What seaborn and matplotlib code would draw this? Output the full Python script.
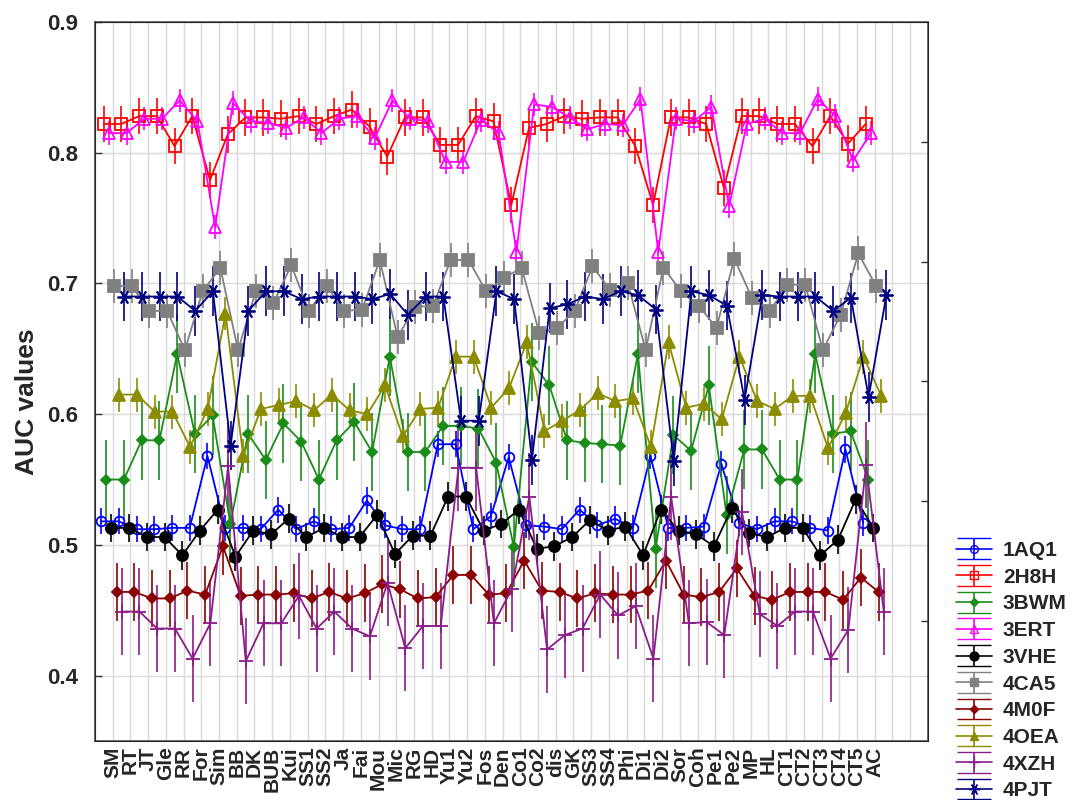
import numpy as np
import pandas as pd
import matplotlib
matplotlib.use("Agg")
import matplotlib.pyplot as plt
import seaborn as sns

# categories on the x axis
cats = ["SM", "RT", "JT", "Gle", "RR", "For", "Sim", "BB", "DK", "BUB", "Kui",
        "SS1", "SS2", "Ja", "Fai", "Mou", "Mic", "RG", "HD", "Yu1", "Yu2", "Fos",
        "Den", "Co1", "Co2", "dis", "GK", "SS3", "SS4", "Phi", "Di1", "Di2", "Sor",
        "Coh", "Pe1", "Pe2", "MP", "HL", "CT1", "CT2", "CT3", "CT4", "CT5", "AC"]

# AUC values per model
aq1 = [0.518, 0.518, 0.512, 0.512, 0.513, 0.513, 0.568, 0.513, 0.513, 0.512, 0.527,
       0.512, 0.518, 0.512, 0.513, 0.534, 0.515, 0.512, 0.512, 0.577, 0.577, 0.512,
       0.522, 0.567, 0.515, 0.514, 0.512, 0.527, 0.515, 0.520, 0.513, 0.568, 0.513,
       0.513, 0.514, 0.562, 0.517, 0.512, 0.518, 0.518, 0.513, 0.511, 0.573, 0.517]
h8h = [0.822, 0.822, 0.828, 0.828, 0.805, 0.828, 0.779, 0.814, 0.827, 0.827, 0.826,
       0.828, 0.822, 0.828, 0.833, 0.820, 0.797, 0.827, 0.827, 0.806, 0.806, 0.828,
       0.824, 0.760, 0.819, 0.822, 0.828, 0.826, 0.827, 0.827, 0.805, 0.760, 0.827,
       0.827, 0.822, 0.773, 0.828, 0.828, 0.822, 0.822, 0.805, 0.828, 0.807, 0.822]
bwm = [0.550, 0.550, 0.580, 0.580, 0.646, 0.585, 0.599, 0.516, 0.585, 0.565, 0.593,
       0.579, 0.550, 0.580, 0.594, 0.571, 0.644, 0.571, 0.571, 0.591, 0.591, 0.589,
       0.563, 0.498, 0.640, 0.622, 0.580, 0.578, 0.577, 0.576, 0.646, 0.497, 0.584,
       0.572, 0.622, 0.523, 0.573, 0.573, 0.550, 0.550, 0.646, 0.585, 0.587, 0.550]
ert = [0.815, 0.815, 0.826, 0.826, 0.840, 0.824, 0.743, 0.838, 0.824, 0.823, 0.819,
       0.827, 0.815, 0.826, 0.828, 0.811, 0.840, 0.826, 0.824, 0.793, 0.793, 0.825,
       0.815, 0.724, 0.837, 0.835, 0.827, 0.818, 0.822, 0.821, 0.841, 0.724, 0.826,
       0.824, 0.835, 0.759, 0.822, 0.826, 0.815, 0.815, 0.841, 0.828, 0.794, 0.815]
vhe = [0.513, 0.513, 0.506, 0.506, 0.492, 0.511, 0.527, 0.491, 0.511, 0.508, 0.520,
       0.506, 0.513, 0.506, 0.506, 0.523, 0.493, 0.507, 0.507, 0.537, 0.537, 0.511,
       0.516, 0.527, 0.497, 0.499, 0.506, 0.519, 0.511, 0.514, 0.492, 0.527, 0.511,
       0.508, 0.499, 0.528, 0.509, 0.506, 0.513, 0.513, 0.492, 0.504, 0.535, 0.513]
ca5 = [0.698, 0.698, 0.679, 0.679, 0.649, 0.694, 0.712, 0.649, 0.694, 0.685, 0.714,
       0.679, 0.698, 0.679, 0.680, 0.718, 0.659, 0.682, 0.683, 0.718, 0.718, 0.694,
       0.704, 0.712, 0.662, 0.666, 0.679, 0.713, 0.695, 0.700, 0.649, 0.712, 0.694,
       0.683, 0.666, 0.719, 0.689, 0.679, 0.699, 0.699, 0.649, 0.676, 0.723, 0.698]
m0f = [0.464, 0.464, 0.459, 0.459, 0.465, 0.462, 0.499, 0.461, 0.462, 0.462, 0.463,
       0.459, 0.464, 0.459, 0.463, 0.470, 0.466, 0.459, 0.460, 0.477, 0.477, 0.462,
       0.463, 0.488, 0.465, 0.464, 0.459, 0.463, 0.462, 0.462, 0.465, 0.488, 0.462,
       0.460, 0.464, 0.482, 0.461, 0.458, 0.464, 0.464, 0.464, 0.458, 0.475, 0.464]
oea = [0.615, 0.615, 0.602, 0.602, 0.575, 0.604, 0.677, 0.568, 0.604, 0.607, 0.610,
       0.603, 0.615, 0.603, 0.600, 0.622, 0.583, 0.604, 0.605, 0.644, 0.644, 0.605,
       0.620, 0.655, 0.587, 0.595, 0.603, 0.616, 0.610, 0.612, 0.575, 0.655, 0.605,
       0.608, 0.596, 0.644, 0.610, 0.604, 0.614, 0.614, 0.574, 0.601, 0.644, 0.614]
xzh = [0.449, 0.449, 0.436, 0.436, 0.413, 0.440, 0.560, 0.411, 0.440, 0.440, 0.461,
       0.436, 0.449, 0.436, 0.430, 0.471, 0.421, 0.438, 0.438, 0.559, 0.559, 0.440,
       0.466, 0.537, 0.420, 0.431, 0.436, 0.462, 0.446, 0.453, 0.413, 0.537, 0.440,
       0.441, 0.431, 0.525, 0.447, 0.438, 0.449, 0.449, 0.413, 0.435, 0.561, 0.449]
pjt = [0.690, 0.690, 0.690, 0.690, 0.679, 0.694, 0.576, 0.679, 0.694, 0.694, 0.688,
       0.690, 0.690, 0.690, 0.688, 0.692, 0.676, 0.690, 0.690, 0.595, 0.595, 0.694,
       0.688, 0.565, 0.681, 0.684, 0.690, 0.688, 0.694, 0.691, 0.680, 0.564, 0.694,
       0.691, 0.683, 0.611, 0.691, 0.690, 0.690, 0.690, 0.679, 0.689, 0.613, 0.691]

# half-width of the error bars per model
errs = {"1AQ1": 0.010, "2H8H": 0.014, "3BWM": 0.030, "3ERT": 0.009, "3VHE": 0.011,
        "4CA5": 0.013, "4M0F": 0.022, "4OEA": 0.013, "4XZH": 0.033, "4PJT": 0.019}

names = ["1AQ1", "2H8H", "3BWM", "3ERT", "3VHE", "4CA5", "4M0F", "4OEA", "4XZH", "4PJT"]
values = [aq1, h8h, bwm, ert, vhe, ca5, m0f, oea, xzh, pjt]

# style per model: colour, marker, filled?, marker size
styles = {
    "1AQ1": ("#0000ff", "o", False, 7),
    "2H8H": ("#ff0000", "s", False, 8),
    "3BWM": ("#1a8c1a", "D", True, 5.5),
    "3ERT": ("#ff00ff", "^", False, 8),
    "3VHE": ("#000000", "o", True, 8),
    "4CA5": ("#808080", "s", True, 8),
    "4M0F": ("#8b0000", "D", True, 5.5),
    "4OEA": ("#8c8c00", "^", True, 8),
    "4XZH": ("#8b1c8b", "+", True, 10),
    "4PJT": ("#000080", (6, 2, 90), True, 10),
}

rows = []
for name, vals in zip(names, values):
    for k, v in enumerate(vals):
        rows.append({"model": name, "cat": k, "auc": v})
df = pd.DataFrame(rows)

sns.set_style("white")
plt.rcParams["font.family"] = ["Liberation Sans", "DejaVu Sans"]
plt.rcParams["font.weight"] = "bold"

fig = plt.figure(figsize=(10.72, 8), dpi=100)
ax = fig.add_axes([0.0886, 0.0738, 0.777, 0.8987])

# horizontal dodge of the models inside each category
offsets = np.linspace(-0.655, 0.655, len(names))

handles = []
for j, name in enumerate(names):
    col, mk, filled, ms = styles[name]
    d = df[df["model"] == name].copy()
    d["x"] = d["cat"] + offsets[j]
    ax.errorbar(d["x"], d["auc"], yerr=errs[name], fmt="none", ecolor=col,
                elinewidth=1.2, capsize=0, zorder=2)
    sns.lineplot(data=d, x="x", y="auc", ax=ax, color=col, lw=1.3,
                 marker=mk, markersize=ms,
                 markerfacecolor=col if filled else "none",
                 markeredgecolor=col, markeredgewidth=1.3,
                 zorder=3, legend=False)
    h = ax.errorbar([np.nan], [np.nan], yerr=[0.01], color=col, lw=1.2,
                    marker=mk, markersize=ms * 0.8,
                    mfc=col if filled else "none", mec=col,
                    capsize=12, elinewidth=1.2)
    handles.append(h)

ax.set_xlim(-1, 46)
ax.set_ylim(0.35, 0.9)
ax.set_xticks(range(46))
ax.set_xticklabels(cats + ["", ""], rotation=90, fontsize=15, fontweight="bold")
ax.set_yticks([0.4, 0.5, 0.6, 0.7, 0.8, 0.9])
ax.set_yticklabels(["0.4", "0.5", "0.6", "0.7", "0.8", "0.9"], fontsize=16,
                   fontweight="bold")
ax.tick_params(axis="both", direction="in", length=5, width=1, color="#333333")
ax.tick_params(axis="x", pad=4)
ax.tick_params(axis="y", pad=12)
ax.grid(True, color="#d9d9d9", lw=1)
ax.set_axisbelow(True)
for s in ax.spines.values():
    s.set_color("#555555")
    s.set_linewidth(1.2)

# unlabelled ticks on the right frame
ax2 = ax.twinx()
ax2.set_ylim(0, 6)
ax2.set_yticks([1, 2, 3, 4, 5])
ax2.set_yticklabels([])
ax2.tick_params(axis="y", direction="in", length=5, width=1, color="#333333")
ax2.grid(False)

ax.set_xlabel("")
ax.set_ylabel("AUC values", fontsize=19, fontweight="bold")
ax.yaxis.set_label_coords(-0.067, 0.4715)

fig.legend(handles, names, loc="upper left", bbox_to_anchor=(0.8918, 0.3238),
           frameon=False, handlelength=1.75, handletextpad=0.5,
           labelspacing=0.37, borderpad=0, borderaxespad=0,
           prop={"weight": "bold", "size": 15})

fig.savefig("out.png", dpi=100)
